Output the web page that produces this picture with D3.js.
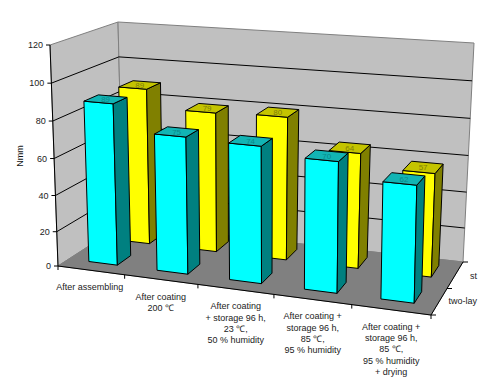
<!DOCTYPE html>
<html>
<head>
<meta charset="utf-8">
<script src="https://cdn.jsdelivr.net/npm/d3@7"></script>
<style>
body { margin: 0; background: #fff; }
text { font-family: "Liberation Sans", Arial, sans-serif; }
</style>
</head>
<body>
<div id="chart"></div>
<script>
var categories = [
	["After assembling"],
	["After coating", "200 ℃"],
	["After coating", "+ storage 96 h,", "23 ℃,", "50 % humidity"],
	["After coating +", "storage 96 h,", "85 ℃,", "95 % humidity"],
	["After coating +", "storage 96 h,", "85 ℃,", "95 % humidity", "+ drying"]
];
var series_names = ["two-lay", "st"];
var two_layer = [89, 75, 74, 70, 62];
var standard = [89, 79, 80, 64, 57];
var y_ticks = [0, 20, 40, 60, 80, 100, 120];

var chart_width = 501,
	chart_height = 380;

var colors = {
	wall: "#c0c0c0",
	floor: "#808080",
	edge: "#808080",
	"two-lay": { front: "#00ffff", top: "#12b4b4", side: "#008080", text: "#0a8a8a" },
	"st": { front: "#ffff00", top: "#c4c400", side: "#808000", text: "#80800a" }
};

// corners of the plot box on screen: [category, value, depth]
var corners = {
	"000": [58, 266], "100": [431, 315], "001": [123, 224], "101": [463, 262],
	"010": [50, 45], "110": [436, 76], "011": [118, 22], "111": [474, 43]
};

function project(u, v, w) {
	var x = 0, y = 0;
	[0, 1].forEach(function(a) {
		[0, 1].forEach(function(b) {
			[0, 1].forEach(function(c) {
				var k = (a ? u : 1 - u) * (b ? v : 1 - v) * (c ? w : 1 - w);
				var p = corners["" + a + b + c];
				x += k * p[0];
				y += k * p[1];
			});
		});
	});
	return [x, y];
}

// Scales (slightly non linear for the perspective)
var x_pos = d3.scalePow().exponent(1.07).domain([0, categories.length]).range([0, 1]);
var y_pos = d3.scalePow().exponent(1.04).domain([0, 120]).range([0, 1]);
var x_band = d3.scaleBand()
	.domain(d3.range(categories.length))
	.range([0, categories.length])
	.paddingInner(0.57)
	.paddingOuter(0.285);
var z_band = d3.scaleBand()
	.domain(["two-lay", "st"])
	.range([0, 1])
	.paddingInner(0.56)
	.paddingOuter(0.28)
	.align(0.6);

var svg = d3.select("#chart")
	.append("svg")
	.attr("width", chart_width)
	.attr("height", chart_height)
	.style("display", "block");

var poly = d3.line();

function face(pts, fill, stroke, sw) {
	svg.append("path")
		.attr("d", poly(pts) + "Z")
		.attr("fill", fill)
		.attr("stroke", stroke)
		.attr("stroke-width", sw)
		.attr("stroke-linejoin", "round");
}

function seg(a, b, stroke) {
	svg.append("line")
		.attr("x1", a[0]).attr("y1", a[1])
		.attr("x2", b[0]).attr("y2", b[1])
		.attr("stroke", stroke)
		.attr("stroke-width", 1);
}

// Walls and floor
face([project(0, 0, 0), project(0, 1, 0), project(0, 1, 1), project(0, 0, 1)], colors.wall, colors.edge, 1);
face([project(0, 0, 1), project(0, 1, 1), project(1, 1, 1), project(1, 0, 1)], colors.wall, colors.edge, 1);
face([project(0, 0, 0), project(1, 0, 0), project(1, 0, 1), project(0, 0, 1)], colors.floor, colors.floor, 1);

// Gridlines
y_ticks.slice(1, -1).forEach(function(t) {
	var v = y_pos(t);
	seg(project(0, v, 0), project(0, v, 1), "#000");
	seg(project(0, v, 1), project(1, v, 1), "#000");
});

// Axes
seg(project(0, 0, 0), project(0, 1, 0), "#000");
seg(project(0, 0, 0), project(1, 0, 0), "#000");
seg(project(1, 0, 0), project(1, 0, 1), "#000");

y_ticks.forEach(function(t) {
	var p = project(0, y_pos(t), 0);
	seg(p, [p[0] - 4, p[1]], "#000");
	svg.append("text")
		.text(t)
		.attr("x", p[0] - 7)
		.attr("y", p[1] + 3)
		.attr("text-anchor", "end")
		.attr("font-size", 9)
		.attr("fill", "#222");
});

d3.range(categories.length + 1).forEach(function(i) {
	var p = project(x_pos(i), 0, 0);
	seg(p, [p[0], p[1] + 4], "#000");
});

[0, 0.5, 1].forEach(function(w) {
	var p = project(1, 0, w);
	seg(p, [p[0] + 5, p[1]], "#000");
});

// Bars, back row first
function draw_bars(name, values) {
	var c = colors[name];
	values.forEach(function(d, i) {
		var w0 = z_band(name),
			w1 = w0 + z_band.bandwidth(),
			v = y_pos(d);
		var raw0 = x_pos(x_band(i)),
			raw1 = x_pos(x_band(i) + x_band.bandwidth());
		var shift = 0.006 + 0.012 * w0;
		var u0 = raw0 + shift * (1 - raw0),
			u1 = raw1 + shift * (1 - raw1);

		face([project(u0, 0, w0), project(u1, 0, w0), project(u1, v, w0), project(u0, v, w0)], c.front, "#000", 1);
		face([project(u1, 0, w0), project(u1, 0, w1), project(u1, v, w1), project(u1, v, w0)], c.side, "#000", 1);
		face([project(u0, v, w0), project(u1, v, w0), project(u1, v, w1), project(u0, v, w1)], c.top, "#000", 1);

		var m = project((u0 + u1) / 2, v, (w0 + w1) / 2);
		svg.append("text")
			.text(d)
			.attr("x", m[0])
			.attr("y", m[1] + 3)
			.attr("text-anchor", "middle")
			.attr("font-size", 8)
			.attr("fill", c.text);
	});
}
draw_bars("st", standard);
draw_bars("two-lay", two_layer);

// Category labels
categories.forEach(function(lines, i) {
	var p = project(x_pos(i + 0.5), 0, 0);
	var label = svg.append("text")
		.attr("text-anchor", "middle")
		.attr("font-size", 9)
		.attr("fill", "#222");
	lines.forEach(function(line, j) {
		label.append("tspan")
			.attr("x", p[0])
			.attr("y", p[1] + 20 + j * 11.3)
			.text(line);
	});
});

// Series labels, cut off at the picture's right edge
series_names.forEach(function(name, i) {
	var p = project(1, 0, 0.25 + i * 0.5);
	svg.append("text")
		.text(name)
		.attr("x", 477)
		.attr("y", p[1] + 2 + i * 2)
		.attr("text-anchor", "end")
		.attr("font-size", 9)
		.attr("fill", "#222");
});

svg.append("text")
	.text("Nmm")
	.attr("transform", "translate(23,156) rotate(-90)")
	.attr("text-anchor", "middle")
	.attr("font-size", 9)
	.attr("fill", "#111");
</script>
</body>
</html>
